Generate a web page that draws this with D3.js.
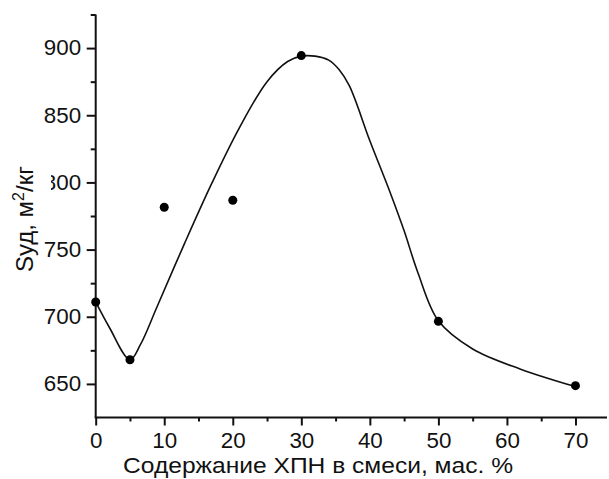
<!DOCTYPE html>
<html><head><meta charset="utf-8">
<script src="https://cdn.jsdelivr.net/npm/d3@7"></script>
<style>body{margin:0;background:#fff}svg{display:block}text{font-family:"Liberation Sans",Arial,sans-serif;fill:#111}</style>
</head><body><svg id="c" width="609" height="479"></svg>
<script>
// measured points
const pointX = [0, 5, 10, 20, 30, 50, 70];
const pointY = [711, 668, 781.5, 786.7, 894.4, 696.6, 648.7];
// fitted curve (as drawn)
const fitX = [0, 2, 5, 6.5, 9, 13, 17, 21, 25, 28, 30, 32, 34, 35.5, 37, 40, 43, 45, 47, 50, 55, 62, 70];
const fitY = [711, 692, 668, 679, 708, 755, 800, 841, 875, 890, 894, 894, 891, 884, 872, 831, 792, 764, 733, 697, 676, 661, 648];
const xTicks = [0, 10, 20, 30, 40, 50, 60, 70];
const xMinor = [5, 15, 25, 35, 45, 55, 65];
const yTicks = [650, 700, 750, 800, 850, 900];
const yMinor = [675, 725, 775, 825, 875, 925];
const xTitle = "Содержание ХПН в смеси, мас. %";

const svg = d3.select("#c");
const x = d3.scaleLinear().domain([0, 74.6]).range([95.7, 607]);
const y = d3.scaleLinear().domain([625, 925]).range([417.5, 14.5]);

const g = svg.append("g");
// x axis
const xa = g.append("g").attr("transform", `translate(0,${y(625)})`);
xa.call(d3.axisBottom(x).tickValues(xTicks).tickSize(8).tickPadding(7).tickFormat(d3.format("d")));
xa.append("g").call(d3.axisBottom(x).tickValues(xMinor).tickSize(4).tickFormat(""));
// y axis
const ya = g.append("g").attr("transform", `translate(${x(0)},0)`);
ya.call(d3.axisLeft(y).tickValues(yTicks).tickSize(9).tickPadding(5).tickFormat(d3.format("d")));
ya.append("g").call(d3.axisLeft(y).tickValues(yMinor).tickSize(5).tickFormat(""));

svg.selectAll(".domain").remove();
svg.selectAll(".tick line").attr("stroke", "#111").attr("stroke-width", 2);
svg.selectAll(".tick text").style("font-size", "21.5px").attr("fill", "#111")
  .attr("transform", "scale(1.04,1)");
g.append("line").attr("x1", x(0) - 1).attr("x2", x(74.6)).attr("y1", y(625)).attr("y2", y(625)).attr("stroke", "#111").attr("stroke-width", 2);
g.append("line").attr("x1", x(0)).attr("x2", x(0)).attr("y1", y(625)).attr("y2", y(925)).attr("stroke", "#111").attr("stroke-width", 2);

// curve
const fit = fitX.map((v, i) => [v, fitY[i]]);
g.append("path").datum(fit)
  .attr("d", d3.line().x(d => x(d[0])).y(d => y(d[1])).curve(d3.curveCatmullRom.alpha(0.5)))
  .attr("fill", "none").attr("stroke", "#111").attr("stroke-width", 1.6);

// points
g.selectAll("circle.p").data(pointX.map((v, i) => [v, pointY[i]])).enter()
  .append("circle").attr("class", "p")
  .attr("cx", d => x(d[0])).attr("cy", d => y(d[1])).attr("r", 4.5).attr("fill", "#000");

// titles
svg.append("text").attr("x", 318).attr("y", 473).attr("text-anchor", "middle")
  .attr("textLength", 390).attr("lengthAdjust", "spacingAndGlyphs")
  .style("font-size", "22px").text(xTitle);
svg.append("rect").attr("x", 6).attr("y", 160).attr("width", 45).attr("height", 76).attr("fill", "#fff");
const yt = svg.append("g").attr("transform", "translate(33,219) rotate(-90)");
const t = yt.append("text").attr("text-anchor", "middle").style("font-size", "24px");
t.append("tspan").text("Sуд, м");
t.append("tspan").attr("dy", -9).style("font-size", "16px").text("2");
t.append("tspan").attr("dy", 9).text("/кг");
</script></body></html>
